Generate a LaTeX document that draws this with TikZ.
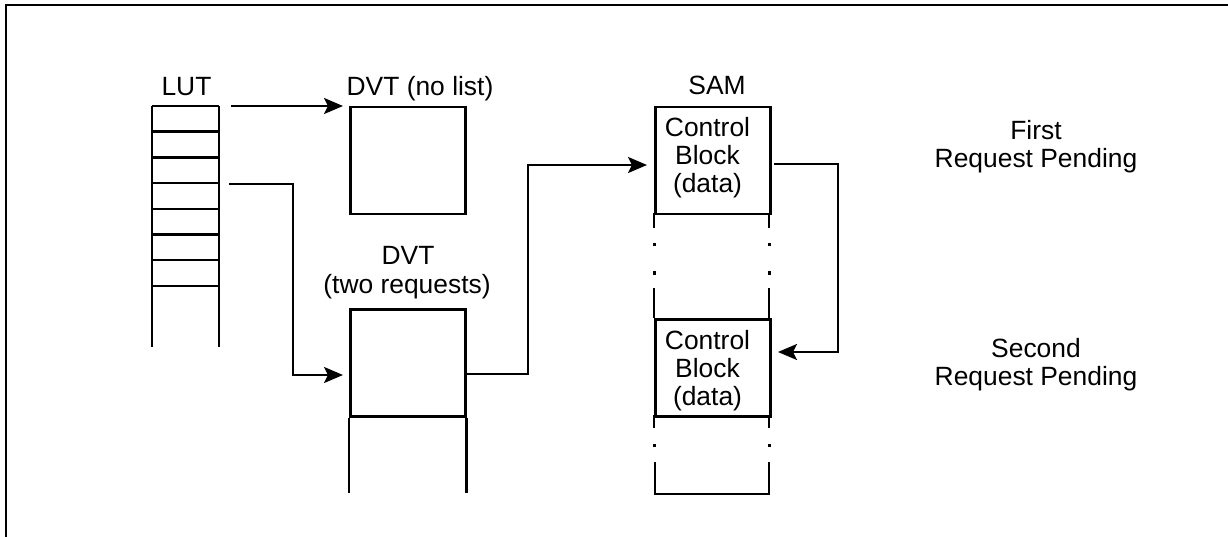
\documentclass[tikz,border=0pt]{standalone}
\usepackage{fontspec}
\setmainfont{Liberation Sans}
\usetikzlibrary{arrows.meta}
\begin{document}
\begin{tikzpicture}[x=1pt,y=-1pt,
  ln/.style={line width=2.5pt},
  arr/.style={ln,-{Stealth[length=19pt,width=16pt,inset=4pt]}},
  boxnode/.style={draw,ln,inner sep=0pt,minimum width=115pt,anchor=north west},
  lbl/.style={inner sep=0pt,anchor=base,font=\fontsize{26.4}{29}\selectfont},
  dotmark/.style={fill=black,inner sep=0pt,minimum size=3pt,rectangle}]
\useasboundingbox (0,0) rectangle (1228,537);
% frame (top and left edges visible)
\draw[line width=2.6pt] (6,537) -- (6,5) -- (1228,5);

% ---------- LUT ----------
\node[lbl] (lutlbl) at (186.5,96) {LUT};
\foreach \i in {0,...,7} \draw[ln] (152,106+25.7*\i) -- (219,106+25.7*\i);
\draw[ln] (152,106) -- (152,347);
\draw[ln] (219,106) -- (219,347);
\coordinate (lutA) at (231,106);
\coordinate (lutB) at (229,184);

% ---------- DVT (no list) ----------
\node[lbl] (dvt1lbl) at (420,96) {DVT (no list)};
\node[boxnode,minimum height=107pt] (dvt1) at (349,106) {};

% ---------- DVT (two requests) ----------
\node[lbl] (dvt2lbla) at (408,265) {DVT};
\node[lbl] (dvt2lblb) at (407,293) {(two requests)};
\node[boxnode,minimum height=107pt] (dvt2) at (349,308) {};
\draw[ln] (dvt2.south west) -- ++(0,75);
\draw[ln] (dvt2.south east) -- ++(0,75);
\coordinate (dvt2in) at (343,375);
\coordinate (dvt2out) at (464,374);

% ---------- SAM ----------
\node[lbl] (samlbl) at (717,95) {SAM};
\node[boxnode,minimum height=107pt] (sam1) at (654,106) {};
\node[lbl] (c1a) at (707.5,137) {Control};
\node[lbl] (c1b) at (707.5,165) {Block};
\node[lbl] (c1c) at (707.5,193) {(data)};
\node[boxnode,minimum height=97pt] (sam2) at (654,318) {};
\node[lbl] (c2a) at (707.5,349) {Control};
\node[lbl] (c2b) at (707.5,377) {Block};
\node[lbl] (c2c) at (707.5,405) {(data)};
\foreach \x in {654,769} {
  \draw[ln] (\x,213) -- (\x,228);
  \draw[ln] (\x,288) -- (\x,318);
  \draw[ln] (\x,415) -- (\x,428);
  \node[dotmark] at (\x,245) {};
  \node[dotmark] at (\x,273) {};
  \node[dotmark] at (\x,445) {};
}
\draw[ln] (655,462) -- (655,494) -- (769,494) -- (769,462);
\coordinate (samin) at (647,165);
\coordinate (samout) at (774,164);
\coordinate (sam2in) at (778,352);

% ---------- side labels ----------
\node[lbl] (f1) at (1036,140) {First};
\node[lbl] (f2) at (1036,168) {Request Pending};
\node[lbl] (s1) at (1036,357) {Second};
\node[lbl] (s2) at (1036,385) {Request Pending};

% ---------- connectors ----------
\draw[arr,shorten >=6pt] (lutA) -- (dvt1.north west);
\draw[arr] (lutB) -- ++(64,0) |- (dvt2in);
\draw[arr] (dvt2out) -- ++(64,0) |- (samin);
\draw[arr] (samout) -- ++(64,0) |- (sam2in);
\end{tikzpicture}
\end{document}
